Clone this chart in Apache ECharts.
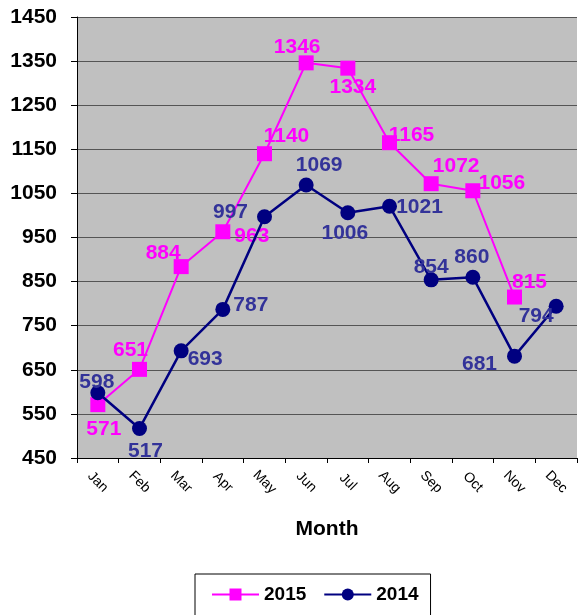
<!DOCTYPE html>
<html>
<head>
<meta charset="utf-8">
<script src="https://cdn.jsdelivr.net/npm/echarts@6/dist/echarts.min.js"></script>
<style>
  html, body { margin: 0; padding: 0; background: #fff; }
  #main { width: 579px; height: 615px; }
</style>
</head>
<body>
<div id="main"></div>
<script>
// data
var months = ['Jan', 'Feb', 'Mar', 'Apr', 'May', 'Jun', 'Jul', 'Aug', 'Sep', 'Oct', 'Nov', 'Dec'];
var sales2015 = [571, 651, 884, 963, 1140, 1346, 1334, 1165, 1072, 1056, 815];
var sales2014 = [598, 517, 693, 787, 997, 1069, 1006, 1021, 854, 860, 681, 794];
var yTicks = [450, 550, 650, 750, 850, 950, 1050, 1150, 1250, 1350, 1450];

// label placement (offset from the marker centre)
var offs2015 = [[6, 25], [-9, -19], [-18, -13], [29, 4], [22, -18], [-9, -16], [5, 19], [22, -7], [25, -17], [29, -8], [15, -15]];
var offs2014 = [[-1, -11], [6, 23], [24, 8], [28, -4], [-34, -5], [13, -20], [-3, 20], [30, 1], [0, -13], [-1, -20], [-35, 8], [-20, 10]];

var fontFam = '"Liberation Sans", Arial, sans-serif';
var pink = '#FF00FF';
var navy = '#000080';
var navyText = '#333399';

function withLabels(values, offs) {
  return values.map(function (v, i) {
    return { value: v, label: { offset: offs[i] } };
  });
}

var myChart = echarts.init(document.getElementById('main'));
var option = {
  animation: false,
  textStyle: { fontFamily: fontFam },
  grid: {
    left: 77,
    top: 17,
    right: 2,
    bottom: 157,
    show: true,
    backgroundColor: '#C0C0C0',
    borderWidth: 0
  },
  legend: {
    left: 195,
    top: 574,
    data: ['2015', '2014'],
    itemWidth: 47,
    itemHeight: 15,
    itemGap: 17,
    padding: [11, 12, 30, 16],
    borderColor: '#000',
    borderWidth: 1,
    textStyle: { fontFamily: fontFam, fontSize: 19, fontWeight: 'bold', color: '#000' }
  },
  xAxis: {
    type: 'category',
    data: months,
    boundaryGap: true,
    name: 'Month',
    nameLocation: 'middle',
    nameGap: 61,
    nameTextStyle: { fontFamily: fontFam, fontSize: 21, fontWeight: 'bold', color: '#000' },
    axisLine: { lineStyle: { color: '#000', width: 1 } },
    axisTick: { show: true, length: 5, lineStyle: { color: '#000' } },
    axisLabel: {
      rotate: -45,
      fontSize: 14,
      color: '#000',
      margin: 24,
      align: 'center',
      verticalAlign: 'middle',
      interval: 0
    },
    splitLine: { show: false }
  },
  yAxis: {
    type: 'value',
    min: yTicks[0],
    max: yTicks[yTicks.length - 1],
    interval: 100,
    axisLine: { show: true, lineStyle: { color: '#000', width: 1 } },
    axisTick: { show: true, length: 6, lineStyle: { color: '#000' } },
    axisLabel: {
      fontSize: 21,
      fontWeight: 'bold',
      color: '#000',
      margin: 20,
      formatter: function (v) { return String(v); }
    },
    splitLine: { show: true, lineStyle: { color: '#555', width: 1 } }
  },
  series: [
    {
      name: '2015',
      type: 'line',
      data: withLabels(sales2015, offs2015),
      symbol: 'rect',
      symbolSize: 15,
      lineStyle: { color: pink, width: 2 },
      itemStyle: { color: pink },
      label: {
        show: true,
        position: 'inside',
        color: pink,
        fontSize: 21,
        fontWeight: 'bold',
        fontFamily: fontFam
      },
      z: 2
    },
    {
      name: '2014',
      type: 'line',
      data: withLabels(sales2014, offs2014),
      symbol: 'circle',
      symbolSize: 15,
      lineStyle: { color: navy, width: 2.5 },
      itemStyle: { color: navy },
      label: {
        show: true,
        position: 'inside',
        color: navyText,
        fontSize: 21,
        fontWeight: 'bold',
        fontFamily: fontFam
      },
      z: 3
    }
  ]
};
myChart.setOption(option);
</script>
</body>
</html>
